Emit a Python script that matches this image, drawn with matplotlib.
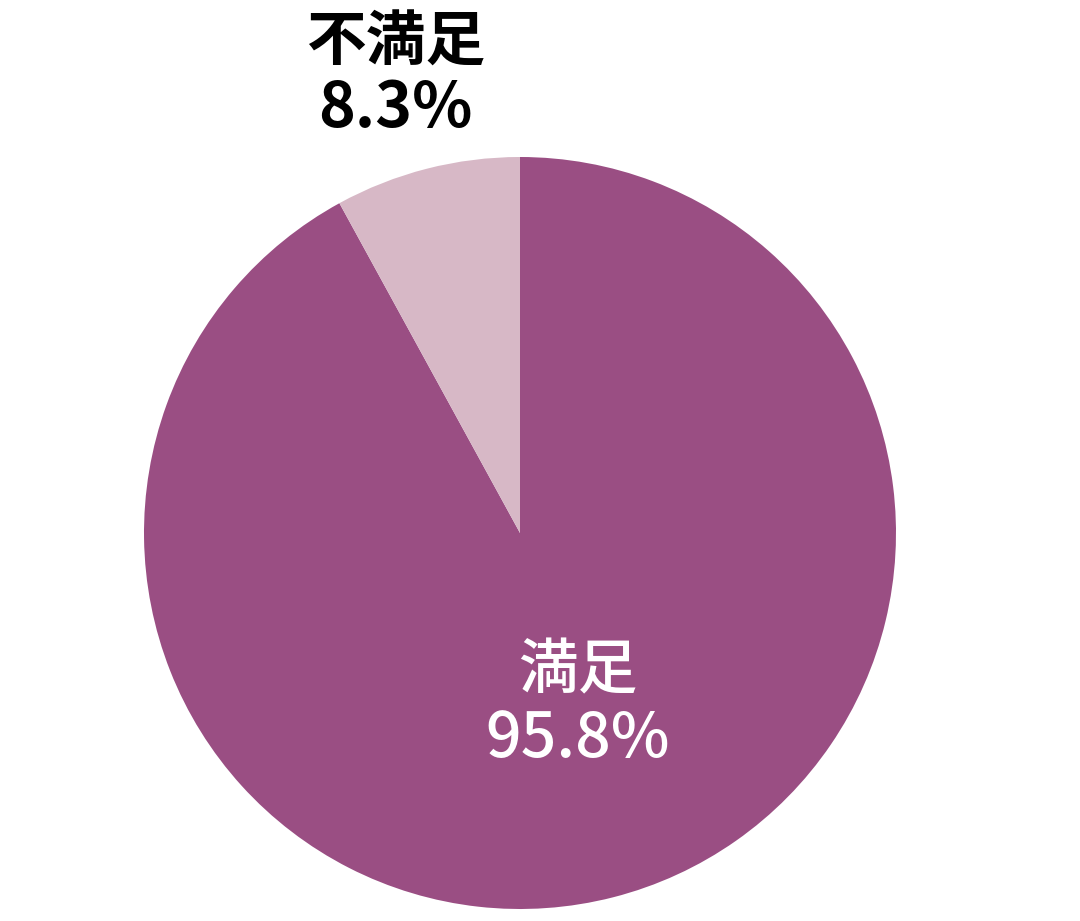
import matplotlib
matplotlib.use("Agg")
import matplotlib.pyplot as plt

plt.rcParams['font.family'] = ['Noto Sans CJK JP', 'DejaVu Sans']

# データ
labels = ['満足', '不満足']
values = [95.8, 8.3]
colors = ['#9A4E83', '#D7B8C6']
text_colors = ['white', 'black']

fig = plt.figure(figsize=(10.8, 9.21), dpi=100)
ax = fig.add_axes([144 / 1080, 12 / 921, 752 / 1080, 752 / 921])

wedges, _ = ax.pie(values, colors=colors, startangle=90, counterclock=False,
                   radius=1.0, wedgeprops=dict(linewidth=0))
ax.set_xlim(-1, 1)
ax.set_ylim(-1, 1)
ax.set_aspect('equal')

# ラベル位置 (データ座標)
label_pos = [(0.154, -0.368, -0.548), (-0.332, 1.302, 1.13)]
weights = ['medium', 'bold']
for lab, val, tc, (x, y1, y2), w in zip(labels, values, text_colors, label_pos, weights):
    ax.text(x, y1, lab, ha='center', va='center', fontsize=43, color=tc,
            fontweight=w, clip_on=False)
    ax.text(x, y2, f'{val}%', ha='center', va='center', fontsize=45, color=tc,
            fontweight=w, clip_on=False)

fig.savefig('out.png', dpi=100)
